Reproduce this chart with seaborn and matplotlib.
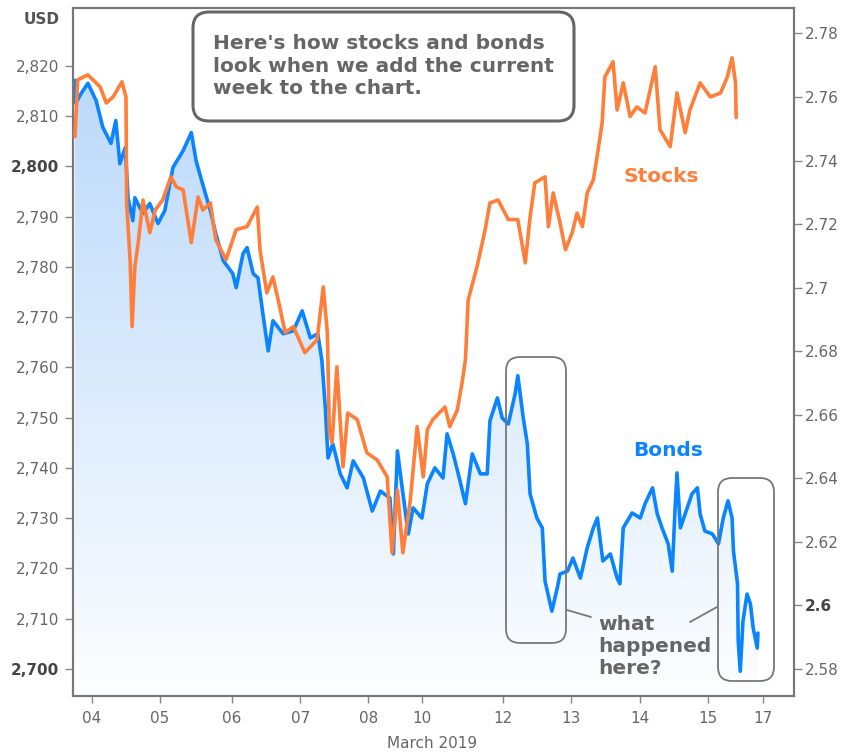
import matplotlib
matplotlib.use("Agg")
import matplotlib.pyplot as plt
import seaborn as sns
import numpy as np
from matplotlib.patches import FancyBboxPatch
from matplotlib.transforms import IdentityTransform

# x is trading-session position in days (04 March = 0), weekend gaps removed
stock_x = [-0.25, -0.21, -0.06, 0.12, 0.21, 0.31, 0.44, 0.50, 0.51, 0.56, 0.59, 0.63, 0.68, 0.75,
           0.85, 0.93, 1.04, 1.16, 1.24, 1.34, 1.46, 1.56, 1.63, 1.74, 1.82, 1.97, 2.12, 2.28,
           2.43, 2.47, 2.57, 2.66, 2.76, 2.84, 2.96, 3.13, 3.31, 3.40, 3.46, 3.49, 3.53, 3.60,
           3.69, 3.76, 3.90, 4.04, 4.19, 4.34, 4.41, 4.49, 4.57, 4.68, 4.78, 4.87, 4.93, 5.01,
           5.19, 5.26, 5.37, 5.44, 5.49, 5.53, 5.66, 5.78, 5.85, 5.97, 6.12, 6.26, 6.37, 6.44,
           6.51, 6.66, 6.71, 6.78, 6.88, 6.96, 7.06, 7.13, 7.21, 7.28, 7.37, 7.43, 7.50, 7.54,
           7.66, 7.72, 7.81, 7.91, 8.01, 8.13, 8.28, 8.35, 8.50, 8.60, 8.72, 8.79, 8.94, 9.09,
           9.24, 9.34, 9.41, 9.46, 9.47]
stock_usd = [2805.9, 2817.2, 2818.2, 2815.8, 2812.6, 2813.8, 2816.8, 2813.8, 2792.7, 2781.4,
             2768.1, 2780.0, 2784.8, 2793.3, 2786.8, 2791.3, 2793.3, 2797.9, 2795.9, 2795.3,
             2784.8, 2793.9, 2791.3, 2792.7, 2785.4, 2781.4, 2787.4, 2788.0, 2791.9, 2783.4,
             2774.8, 2778.0, 2772.0, 2766.9, 2768.1, 2762.9, 2765.5, 2776.0, 2766.9, 2747.0,
             2745.0, 2760.1, 2740.2, 2750.9, 2749.6, 2743.0, 2741.6, 2738.2, 2723.1, 2735.6,
             2723.1, 2733.6, 2748.2, 2738.2, 2747.6, 2749.6, 2752.1, 2748.2, 2751.5, 2756.9,
             2761.5, 2773.4, 2780.0, 2787.4, 2792.7, 2793.3, 2789.4, 2789.4, 2780.8, 2789.9,
             2796.7, 2797.9, 2788.0, 2794.7, 2788.8, 2783.4, 2786.8, 2790.7, 2788.0, 2794.7,
             2797.3, 2802.3, 2808.7, 2817.8, 2820.8, 2811.2, 2816.6, 2809.9, 2811.8, 2810.6,
             2819.8, 2807.3, 2803.9, 2814.6, 2806.7, 2811.2, 2816.6, 2813.8, 2814.6, 2817.8,
             2821.6, 2816.6, 2809.7]

bond_x = [-0.25, -0.24, -0.16, -0.06, 0.06, 0.16, 0.28, 0.35, 0.41, 0.49, 0.53, 0.60, 0.63, 0.75,
          0.85, 0.97, 1.07, 1.19, 1.34, 1.46, 1.53, 1.60, 1.74, 1.82, 1.93, 2.07, 2.12, 2.22,
          2.28, 2.37, 2.44, 2.50, 2.59, 2.66, 2.81, 2.96, 3.09, 3.21, 3.32, 3.38, 3.43, 3.47,
          3.54, 3.65, 3.75, 3.84, 3.99, 4.12, 4.24, 4.38, 4.43, 4.49, 4.56, 4.65, 4.72, 4.85,
          4.93, 5.04, 5.16, 5.22, 5.31, 5.41, 5.49, 5.59, 5.71, 5.81, 5.85, 5.96, 6.03, 6.12,
          6.22, 6.26, 6.34, 6.40, 6.44, 6.54, 6.62, 6.66, 6.76, 6.84, 6.88, 6.99, 7.07, 7.18,
          7.28, 7.37, 7.43, 7.51, 7.62, 7.72, 7.76, 7.81, 7.94, 8.06, 8.13, 8.24, 8.31, 8.38,
          8.47, 8.53, 8.57, 8.60, 8.65, 8.75, 8.82, 8.90, 8.94, 9.01, 9.12, 9.21, 9.28, 9.35,
          9.41, 9.43, 9.49, 9.50, 9.53, 9.57, 9.63, 9.68, 9.72, 9.78, 9.79]
bond_yield = [2.7652, 2.7580, 2.7611, 2.7643, 2.7589, 2.7504, 2.7454, 2.7526, 2.7390, 2.7441,
              2.7283, 2.7211, 2.7283, 2.7233, 2.7265, 2.7202, 2.7242, 2.7378, 2.7431, 2.7488,
              2.7400, 2.7346, 2.7242, 2.7170, 2.7085, 2.7044, 2.7000, 2.7107, 2.7126, 2.7044,
              2.7031, 2.6937, 2.6801, 2.6896, 2.6855, 2.6864, 2.6927, 2.6842, 2.6855, 2.6770,
              2.6622, 2.6464, 2.6509, 2.6414, 2.6370, 2.6455, 2.6401, 2.6297, 2.6360, 2.6338,
              2.6162, 2.6486, 2.6370, 2.6225, 2.6307, 2.6275, 2.6383, 2.6433, 2.6401, 2.6540,
              2.6477, 2.6392, 2.6320, 2.6477, 2.6414, 2.6414, 2.6581, 2.6653, 2.6590, 2.6571,
              2.6666, 2.6723, 2.6590, 2.6508, 2.6351, 2.6275, 2.6244, 2.6077, 2.5982, 2.6055,
              2.6099, 2.6108, 2.6149, 2.6086, 2.6181, 2.6244, 2.6275, 2.6140, 2.6162, 2.6086,
              2.6068, 2.6244, 2.6291, 2.6275, 2.6320, 2.6370, 2.6288, 2.6244, 2.6194, 2.6108,
              2.6297, 2.6417, 2.6244, 2.6307, 2.6351, 2.6370, 2.6288, 2.6234, 2.6225, 2.6194,
              2.6275, 2.6329, 2.6275, 2.6171, 2.6068, 2.5888, 2.5793, 2.5951, 2.6036, 2.6004,
              2.5929, 2.5866, 2.5913]

day_pos = [0, 1, 2.06, 3.06, 4.06, 4.85, 6.04, 7.04, 8.06, 9.06, 9.87]
day_labels = ["04", "05", "06", "07", "08", "10", "12", "13", "14", "15", "17"]
usd_ticks = [2700, 2710, 2720, 2730, 2740, 2750, 2760, 2770, 2780, 2790, 2800, 2810, 2820]
yield_ticks = [2.58, 2.60, 2.62, 2.64, 2.66, 2.68, 2.70, 2.72, 2.74, 2.76, 2.78]

ORANGE = "#ff7f3a"
BLUE = "#0a84ff"
GREY = "#666666"
W, H = 846, 756

sns.set_style("white")
plt.rcParams["font.family"] = ["DejaVu Sans"]

fig = plt.figure(figsize=(W / 100, H / 100), dpi=100)
ax = fig.add_axes([73 / W, 1 - 696 / H, (794 - 73) / W, (696 - 8) / H])

# bonds on the base axes (with gradient fill), stocks on the twin so they sit on top
sns.lineplot(x=bond_x, y=bond_yield, ax=ax, color=BLUE, lw=2.6, sort=False, errorbar=None, zorder=3)
ax.set_xlim(-0.279, 10.32)
ax.set_ylim(2.5715, 2.788)

poly = ax.fill_between(bond_x, bond_yield, 2.5715, alpha=0)
grad = np.ones((256, 1, 4))
t = np.linspace(0, 1, 256)[:, None]
top = np.array([180, 213, 250]) / 255
bot = np.array([253, 254, 255]) / 255
grad[:, :, :3] = top * (1 - t[..., None]) + bot * t[..., None]
im = ax.imshow(grad, extent=[-0.279, 10.32, 2.5715, 2.788], aspect="auto", origin="upper", zorder=1)
im.set_clip_path(poly.get_paths()[0], transform=ax.transData)

ax2 = ax.twinx()
sns.lineplot(x=stock_x, y=stock_usd, ax=ax2, color=ORANGE, lw=2.6, sort=False, errorbar=None, zorder=4)
ax2.set_ylim(2694.6, 2831.5)
ax2.set_xlim(-0.279, 10.32)

ax.yaxis.tick_right()
ax2.yaxis.tick_left()
ax.set_ylabel("")
ax2.set_ylabel("")

ax.set_xticks(day_pos, day_labels)
ax.set_yticks(yield_ticks, ["2.58", "2.6", "2.62", "2.64", "2.66", "2.68", "2.7", "2.72", "2.74", "2.76", "2.78"])
ax2.set_yticks(usd_ticks, [f"{v:,}" for v in usd_ticks])

ax.tick_params(axis="x", bottom=True, length=5, width=1, color="#888888", labelsize=11,
               labelcolor=GREY, pad=6)
ax.tick_params(axis="y", right=True, left=False, labelright=True, labelleft=False, length=6,
               width=1, color="#888888", labelsize=11, labelcolor=GREY, pad=2)
ax2.tick_params(axis="y", left=True, right=False, labelleft=True, labelright=False, length=6,
                width=1, color="#888888", labelsize=11, labelcolor=GREY, pad=4)

for lab in ax2.get_yticklabels():
    if lab.get_text() in ("2,800", "2,700"):
        lab.set_fontweight("bold")
        lab.set_color("#444444")
for lab in ax.get_yticklabels():
    if lab.get_text() == "2.6":
        lab.set_fontweight("bold")
        lab.set_color("#444444")

for a in (ax, ax2):
    for s in a.spines.values():
        s.set_color("#777777")
        s.set_linewidth(1.5)

def fx(px):
    return px / W

def fy(py):
    return 1 - py / H

fig.text(fx(60), fy(20), "USD", ha="right", va="center", fontsize=11, fontweight="bold", color="#555555")
fig.text(fx(432), fy(743), "March 2019", ha="center", va="center", fontsize=11, color=GREY)

ident = IdentityTransform()
boxes = [(193, 12, 574, 121, 16, "#666666", 2.2),
         (506, 357, 566, 643, 14, "#777777", 1.3),
         (718, 478, 774, 681, 14, "#777777", 1.3)]
for x0, y0, x1, y1, r, ec, lw in boxes:
    fig.patches.append(FancyBboxPatch((x0, H - y1), x1 - x0, y1 - y0,
                                      boxstyle=f"round,pad=0,rounding_size={r}",
                                      transform=ident, fc="none", ec=ec, lw=lw, zorder=10))

fig.text(fx(213), fy(66), "Here's how stocks and bonds\nlook when we add the current\nweek to the chart.",
         ha="left", va="center", fontsize=14.5, fontweight="bold", color=GREY, linespacing=1.25)
fig.text(fx(661), fy(176), "Stocks", ha="center", va="center", fontsize=14.5, fontweight="bold", color=ORANGE)
fig.text(fx(668), fy(450), "Bonds", ha="center", va="center", fontsize=14.5, fontweight="bold", color=BLUE)
fig.text(fx(598), fy(646), "what\nhappened\nhere?", ha="left", va="center", fontsize=14.5,
         fontweight="bold", color=GREY, linespacing=1.2)

fig.add_artist(plt.Line2D([fx(567), fx(591)], [fy(610), fy(617)], color="#777777", lw=1.3))
fig.add_artist(plt.Line2D([fx(717), fx(690)], [fy(607), fy(622)], color="#777777", lw=1.3))

fig.savefig("out.png", dpi=100)
